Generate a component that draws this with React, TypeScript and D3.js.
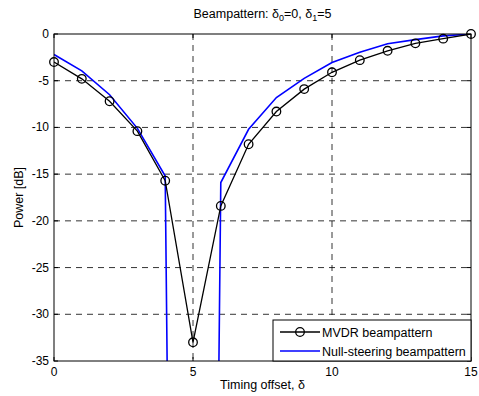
import * as d3 from "d3";

const offsets = [0, 1, 2, 3, 4, 5, 6, 7, 8, 9, 10, 11, 12, 13, 14, 15];
const mvdr = [-3.0, -4.8, -7.2, -10.4, -15.7, -33.0, -18.4, -11.8, -8.3, -5.9, -4.1, -2.8, -1.8, -1.0, -0.5, 0];
const nullSteer = [-2.2, -3.95, -6.5, -10.1, -15.2, -300, -15.9, -10.2, -6.8, -4.75, -3.05, -1.95, -1.05, -0.6, -0.2, 0];
const xTicks = [0, 5, 10, 15];
const yTicks = [0, -5, -10, -15, -20, -25, -30, -35];

export default function App() {
  const width = 479;
  const height = 396;
  const margin = { top: 34, right: 8, bottom: 35, left: 54 };
  const w = width - margin.left - margin.right;
  const h = height - margin.top - margin.bottom;

  const x = d3.scaleLinear().domain([0, 15]).range([0, w]);
  const y = d3.scaleLinear().domain([-35, 0]).range([h, 0]);

  const line = d3.line<number>()
    .x((_, i) => x(offsets[i]))
    .y(d => y(d));

  const font = "'Liberation Sans', Arial, sans-serif";
  const legW = 198;

  return (
    <svg width={width} height={height} style={{ position: "absolute", left: 0, top: 0 }} fontFamily={font}>
      <rect width={width} height={height} fill="#fff" />
      <text x={margin.left + w / 2} y={18} textAnchor="middle" fontSize={12.5}>
        Beampattern: δ<tspan fontSize={9} dy={3}>0</tspan><tspan dy={-3}>=0, δ</tspan>
        <tspan fontSize={9} dy={3}>1</tspan><tspan dy={-3}>=5</tspan>
      </text>
      <defs>
        <clipPath id="plotclip">
          <rect x={0} y={0} width={w} height={h} />
        </clipPath>
      </defs>
      <g transform={`translate(${margin.left},${margin.top})`}>
        {xTicks.slice(1, -1).map(t => (
          <line key={"gx" + t} x1={x(t)} x2={x(t)} y1={0} y2={h} stroke="#000" strokeWidth={0.8} strokeDasharray="6,5" />
        ))}
        {yTicks.slice(1, -1).map(t => (
          <line key={"gy" + t} x1={0} x2={w} y1={y(t)} y2={y(t)} stroke="#000" strokeWidth={0.8} strokeDasharray="6,5" />
        ))}
        <g clipPath="url(#plotclip)">
          <path d={line(nullSteer) ?? ""} fill="none" stroke="#0000ff" strokeWidth={1.6} />
          <path d={line(mvdr) ?? ""} fill="none" stroke="#000" strokeWidth={1.3} />
        </g>
        {mvdr.map((v, i) => (
          <circle key={i} cx={x(offsets[i])} cy={y(v)} r={4.3} fill="none" stroke="#000" strokeWidth={1.3} />
        ))}
        <rect x={0} y={0} width={w} height={h} fill="none" stroke="#000" strokeWidth={1} />
        {xTicks.map(t => (
          <g key={"tx" + t}>
            <line x1={x(t)} x2={x(t)} y1={h} y2={h - 4} stroke="#000" />
            <line x1={x(t)} x2={x(t)} y1={0} y2={4} stroke="#000" />
            <text x={x(t)} y={h + 15} textAnchor="middle" fontSize={12}>{t}</text>
          </g>
        ))}
        {yTicks.map(t => (
          <g key={"ty" + t}>
            <line x1={0} x2={4} y1={y(t)} y2={y(t)} stroke="#000" />
            <line x1={w} x2={w - 4} y1={y(t)} y2={y(t)} stroke="#000" />
            <text x={-5} y={y(t) + 4} textAnchor="end" fontSize={12}>{t}</text>
          </g>
        ))}
        <text x={w / 2} y={h + 28} textAnchor="middle" fontSize={12.5}>Timing offset, δ</text>
        <text transform={`translate(${-31},${h / 2}) rotate(-90)`} textAnchor="middle" fontSize={12.5}>Power [dB]</text>
        <g transform={`translate(${w - legW},${h - 41})`}>
          <rect x={0} y={0} width={legW} height={41} fill="#fff" stroke="#000" strokeWidth={1} />
          <line x1={7} x2={47} y1={12} y2={12} stroke="#000" strokeWidth={1.3} />
          <circle cx={27} cy={12} r={4.3} fill="none" stroke="#000" strokeWidth={1.3} />
          <text x={49} y={16.5} fontSize={12.5}>MVDR beampattern</text>
          <line x1={7} x2={47} y1={31} y2={31} stroke="#0000ff" strokeWidth={1.6} />
          <text x={49} y={35.5} fontSize={12.5}>Null-steering beampattern</text>
        </g>
      </g>
    </svg>
  );
}
